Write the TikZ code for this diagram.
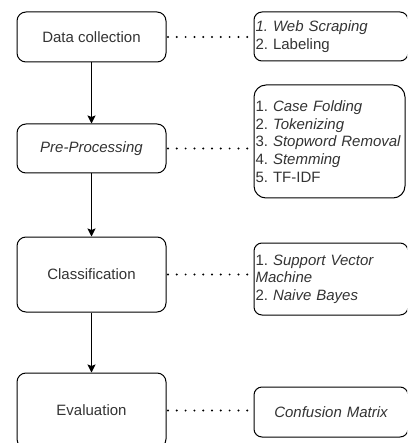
\documentclass[tikz,border=0pt]{standalone}
\usepackage{fontspec}
\setmainfont{Liberation Sans}
\usetikzlibrary{arrows.meta}
\definecolor{txt}{HTML}{333333}
\tikzset{
  stage/.style={draw=black, line width=1pt, rounded corners=9pt, minimum width=149pt,
    text=txt, font=\fontsize{15}{17.6}\selectfont, inner sep=0pt},
  detail/.style={draw=black, line width=1pt, rounded corners=8pt, text=txt,
    font=\fontsize{15}{17.6}\selectfont\frenchspacing, align=left, inner xsep=1.5pt, inner ysep=0pt},
  flow/.style={draw=black, line width=1pt, -{Stealth[length=8pt,width=8pt,inset=1.5pt]}},
  link/.style={draw=black, line width=2.2pt, line cap=round, dash pattern=on 0pt off 8.8pt}
}
\begin{document}
\frenchspacing
\begin{tikzpicture}[x=1pt,y=-1pt]
\useasboundingbox (0,0) rectangle (407,443);
\clip (0,0) rectangle (407,443);

% main pipeline
\node[stage, minimum height=50pt] (s1) at (91.5,37) {Data collection};
\node[stage, minimum height=49pt] (s2) at (91.5,148.5) {\itshape Pre-Processing};
\node[stage, minimum height=75pt] (s3) at (91.5,274.5) {Classification};
\node[stage, minimum height=75pt] (s4) at (91.5,410.5) {Evaluation};

% details for each stage
\node[detail, text width=151pt, minimum height=49pt] (d1) at (331,36.5)
  {\textit{1. Web Scraping}\\2. Labeling};
\node[detail, rounded corners=12pt, text width=148pt, minimum height=113pt] (d2) at (329.5,141.5)
  {1. \textit{Case Folding}\\2. \textit{Tokenizing}\\3. \textit{Stopword Removal}\\4. \textit{Stemming}\\5. TF-IDF};
\node[detail, text width=151pt, minimum height=72pt] (d3) at (331,279)
  {1. \textit{Support Vector}\\\textit{Machine}\\2. \textit{Naive Bayes}};
\node[detail, align=center, text width=151pt, minimum height=50pt] (d4) at (331,412)
  {\itshape Confusion Matrix};

% arrows between stages
\draw[flow] (s1.south) -- (s2.north);
\draw[flow] (s2.south) -- (s3.north);
\draw[flow] (s3.south) -- (s4.north);

% dotted links to details
\draw[link] (s1.east) ++(1.5pt,0) -- (s1.east -| d1.west);
\draw[link] (s2.east) ++(1.5pt,0) -- (s2.east -| d2.west);
\draw[link] (s3.east) ++(1.5pt,0) -- (s3.east -| d3.west);
\draw[link] (s4.east) ++(1.5pt,0) -- (s4.east -| d4.west);
\end{tikzpicture}
\end{document}
